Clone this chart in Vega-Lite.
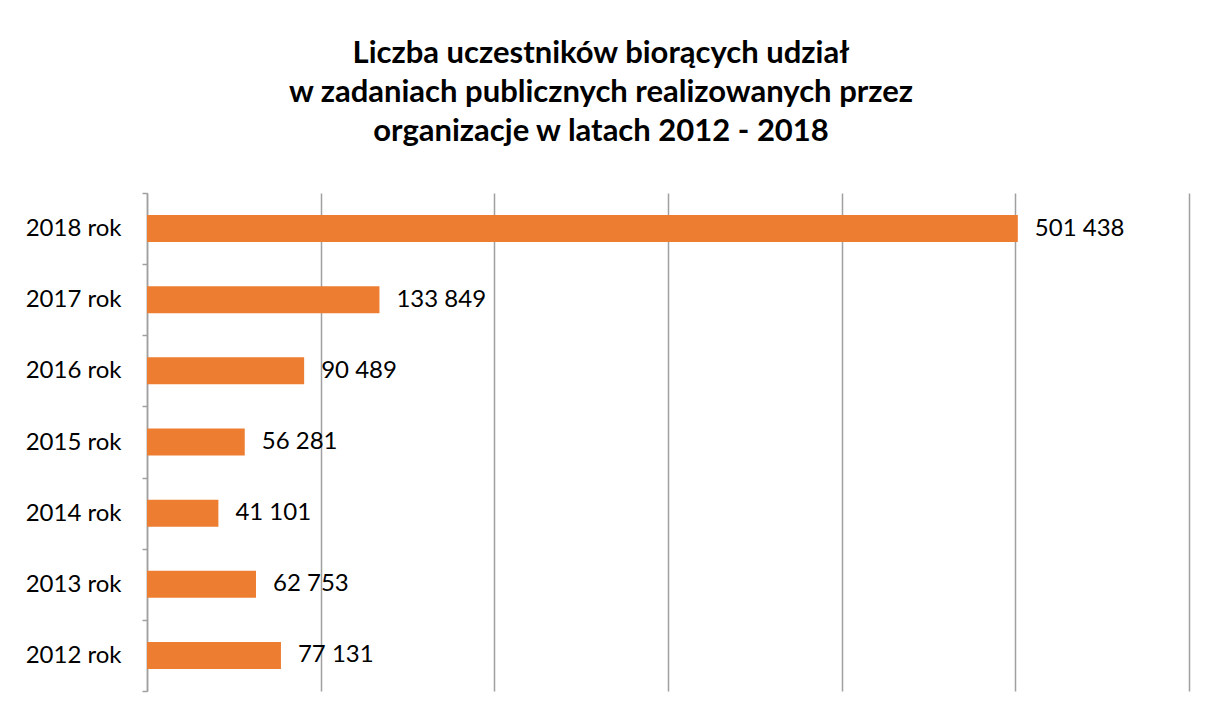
{
  "$schema": "https://vega.github.io/schema/vega-lite/v6.json",
  "width": 1042,
  "height": 498,
  "autosize": {"type": "none"},
  "padding": {"left": 147, "top": 193, "right": 19, "bottom": 22},
  "background": "white",
  "title": {
    "text": ["Liczba uczestników biorących udział", "w zadaniach publicznych realizowanych przez", "organizacje w latach 2012 - 2018"],
    "font": "Lato",
    "fontSize": 31,
    "fontWeight": "bold",
    "color": "black",
    "lineHeight": 39,
    "anchor": "middle",
    "frame": "group",
    "dx": -67,
    "offset": 33
  },
  "data": {
    "values": [
      {"rok": "2018 rok", "liczba": 501438},
      {"rok": "2017 rok", "liczba": 133849},
      {"rok": "2016 rok", "liczba": 90489},
      {"rok": "2015 rok", "liczba": 56281},
      {"rok": "2014 rok", "liczba": 41101},
      {"rok": "2013 rok", "liczba": 62753},
      {"rok": "2012 rok", "liczba": 77131}
    ]
  },
  "encoding": {
    "y": {
      "field": "rok",
      "type": "nominal",
      "sort": "descending",
      "scale": {"paddingInner": 0, "paddingOuter": 0},
      "axis": {
        "title": null,
        "labelFont": "Lato",
        "labelFontSize": 24,
        "labelColor": "black",
        "labelPadding": 21,
        "tickBand": "extent",
        "tickSize": 5,
        "tickColor": "#A0A0A0",
        "domainColor": "#A0A0A0",
        "tickWidth": 1.5,
        "domainWidth": 1.5,
        "grid": false
      }
    },
    "x": {
      "field": "liczba",
      "type": "quantitative",
      "scale": {"domain": [0, 600000], "nice": false},
      "axis": {
        "title": null,
        "labels": false,
        "ticks": false,
        "domain": false,
        "grid": true,
        "values": [0, 100000, 200000, 300000, 400000, 500000, 600000],
        "gridColor": "#A0A0A0",
        "gridWidth": 1.5
      }
    }
  },
  "layer": [
    {
      "mark": {"type": "bar", "color": "#ED7D31", "height": {"band": 0.38}}
    },
    {
      "mark": {"type": "text", "align": "left", "baseline": "middle", "dx": 17, "font": "Lato", "fontSize": 24, "color": "black"},
      "encoding": {
        "text": {"field": "liczba", "type": "quantitative", "format": ",d"}
      }
    }
  ],
  "config": {
    "view": {"stroke": null},
    "locale": {"number": {"decimal": ",", "thousands": " ", "grouping": [3], "currency": ["", " zł"]}}
  }
}
